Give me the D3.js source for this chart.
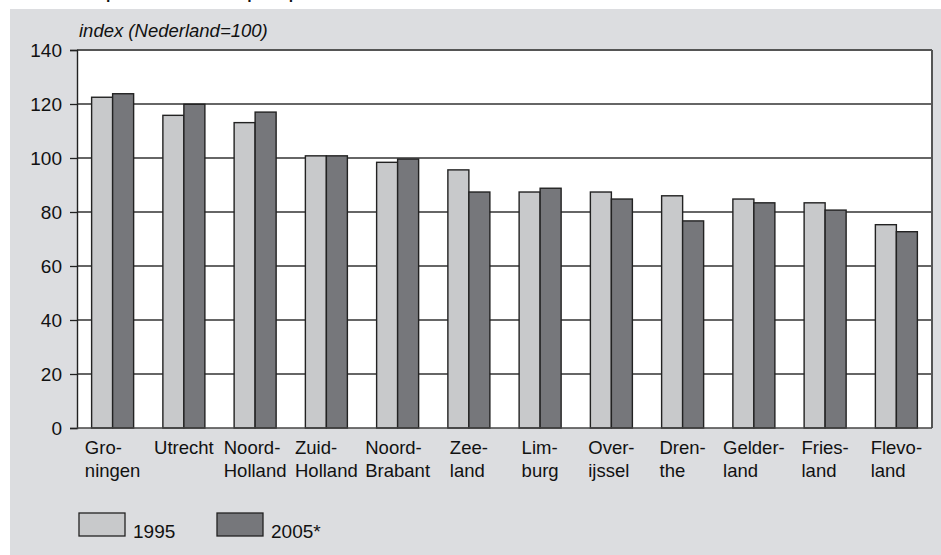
<!DOCTYPE html>
<html><head><meta charset="utf-8">
<script src="https://cdn.jsdelivr.net/npm/d3@7"></script>
<style>
html,body{margin:0;padding:0;background:#fff;}
text{font-family:"Liberation Sans",Arial,Helvetica,sans-serif;}
</style></head>
<body>
<svg id="chart" width="941" height="555"></svg>
<script>
const categories = [["Gro-","ningen"],["Utrecht"],["Noord-","Holland"],["Zuid-","Holland"],["Noord-","Brabant"],["Zee-","land"],["Lim-","burg"],["Over-","ijssel"],["Dren-","the"],["Gelder-","land"],["Fries-","land"],["Flevo-","land"]];
const seriesNames = ["1995","2005*"];
const values1995 = [122.5,115.8,113.1,100.8,98.4,95.6,87.4,87.4,86,84.8,83.4,75.3];
const values2005 = [123.8,119.9,117,100.8,99.6,87.4,88.8,84.8,76.7,83.4,80.7,72.7];
const yTicks = [0,20,40,60,80,100,120,140];
const yTitle = "index (Nederland=100)";
const topTitle = "Arbeidsproductiviteit per provincie";

const svg = d3.select("#chart");
const W = 941, H = 555;
const m = {left:77, right:9, top:50, bottom:127};
const pw = W - m.left - m.right, ph = H - m.top - m.bottom;

svg.append("rect").attr("x",10).attr("y",9).attr("width",W-10).attr("height",H-9).attr("fill","#dcdde0");
svg.append("text").attr("x",24).attr("y",-3).attr("font-size",24).attr("fill","#111").text(topTitle);

const g = svg.append("g").attr("transform",`translate(${m.left},${m.top})`);
g.append("rect").attr("width",pw).attr("height",ph).attr("fill","#fff");

const x0 = d3.scaleBand().domain(d3.range(categories.length)).range([0,pw]).paddingInner(0).paddingOuter(0);
const x1 = d3.scaleBand().domain([0,1]).range([0,42]);
const y = d3.scaleLinear().domain([0,140]).range([ph,0]);

// gridlines
g.append("g").selectAll("line").data(yTicks.filter(t=>t>0)).join("line")
  .attr("x1",0).attr("x2",pw).attr("y1",d=>y(d)).attr("y2",d=>y(d))
  .attr("stroke",d=>d===140?"#555":"#333").attr("stroke-width",d=>d===140?2:1.3);

const colors = ["#c8c9cb","#76777b"];
const data = categories.map((c,i)=>[values1995[i],values2005[i]]);
const groups = g.append("g").selectAll("g").data(data).join("g")
  .attr("transform",(d,i)=>`translate(${x0(i)+x0.bandwidth()/2-21},0)`);
groups.selectAll("rect").data(d=>d).join("rect")
  .attr("x",(d,j)=>x1(j)).attr("width",x1.bandwidth())
  .attr("y",d=>y(d)).attr("height",d=>ph-y(d))
  .attr("fill",(d,j)=>colors[j]).attr("stroke","#222").attr("stroke-width",1.4);

// right border
g.append("line").attr("x1",pw).attr("x2",pw).attr("y1",0).attr("y2",ph).attr("stroke","#555").attr("stroke-width",2);

// y axis
const yAxis = d3.axisLeft(y).tickValues(yTicks).tickSize(7).tickPadding(8);
const ya = g.append("g").call(yAxis);
ya.select(".domain").attr("stroke","#222").attr("stroke-width",1.4);
ya.selectAll(".tick line").attr("stroke","#222").attr("stroke-width",1.3);
ya.selectAll(".tick text").attr("font-size",19).attr("fill","#111").attr("font-family","Liberation Sans, Arial, sans-serif");
// baseline
g.append("line").attr("x1",0).attr("x2",pw).attr("y1",ph).attr("y2",ph).attr("stroke","#444").attr("stroke-width",1.6);

// y title
svg.append("text").attr("x",79).attr("y",37).attr("font-size",18.5).attr("font-style","italic").attr("fill","#111").text(yTitle);

// x labels
const xl = g.append("g");
categories.forEach((lines,i)=>{
  const t = xl.append("text").attr("font-size",18.5).attr("fill","#111");
  lines.forEach((l,k)=>t.append("tspan").attr("dy",k===0?0:23).attr("x",0).text(l));
  let w = 0;
  t.selectAll("tspan").each(function(){w=Math.max(w,this.getComputedTextLength());});
  const cx = x0(i)+x0.bandwidth()/2;
  t.attr("transform",`translate(${cx-w/2},${ph+26})`);
});

// legend
const leg = svg.append("g");
seriesNames.forEach((s,j)=>{
  const lx = 79 + j*138;
  leg.append("rect").attr("x",lx).attr("y",513).attr("width",46).attr("height",23)
    .attr("fill",colors[j]).attr("stroke","#222").attr("stroke-width",1.3);
  leg.append("text").attr("x",lx+54).attr("y",538).attr("font-size",19).attr("fill","#111").text(s);
});
</script>
</body></html>
